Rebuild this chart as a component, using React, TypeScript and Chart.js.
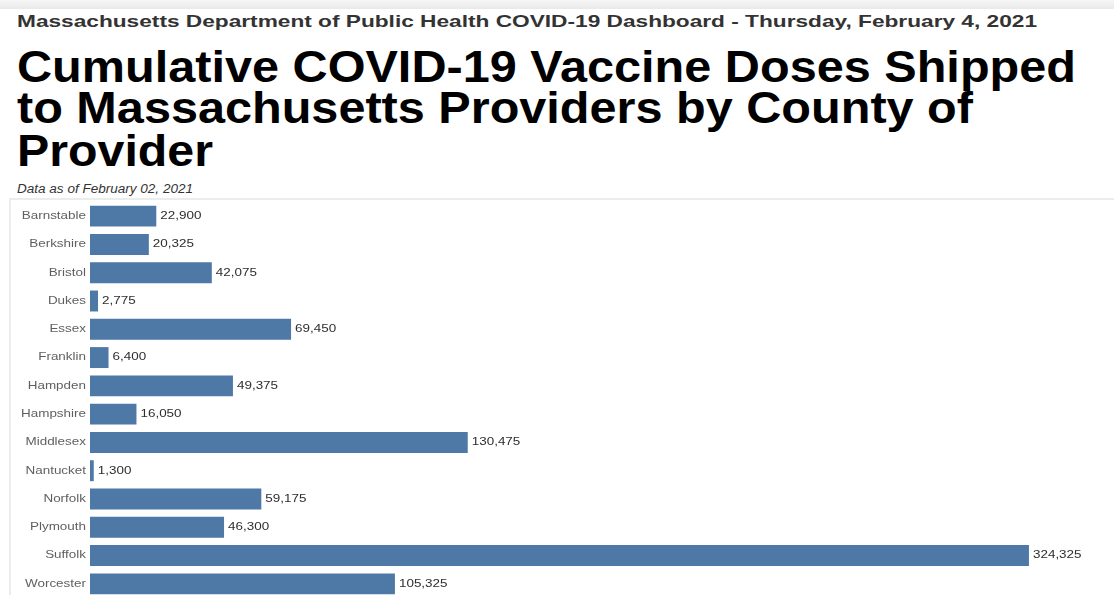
import React, { useEffect, useLayoutEffect, useRef } from "react";
import { Chart, registerables } from "chart.js";

Chart.register(...registerables);

const headerText =
  "Massachusetts Department of Public Health COVID-19 Dashboard - Thursday, February 4, 2021";
const titleLines = [
  "Cumulative COVID-19 Vaccine Doses Shipped",
  "to Massachusetts Providers by County of",
  "Provider",
];
const subtitleText = "Data as of February 02, 2021";

const counties = [
  "Barnstable",
  "Berkshire",
  "Bristol",
  "Dukes",
  "Essex",
  "Franklin",
  "Hampden",
  "Hampshire",
  "Middlesex",
  "Nantucket",
  "Norfolk",
  "Plymouth",
  "Suffolk",
  "Worcester",
];
const doses = [
  22900, 20325, 42075, 2775, 69450, 6400, 49375, 16050, 130475, 1300, 59175,
  46300, 324325, 105325,
];

const FONT = "'Liberation Sans', Arial, Helvetica, sans-serif";
const SX = 1.28;

type FitProps = {
  text: string;
  left: number;
  top: number;
  width: number;
  size: number;
  weight?: number | string;
  italic?: boolean;
  color: string;
};

function FitText({ text, left, top, width, size, weight, italic, color }: FitProps) {
  const ref = useRef<HTMLSpanElement>(null);
  useLayoutEffect(() => {
    const el = ref.current;
    if (!el) return;
    el.style.transform = "none";
    const w = el.getBoundingClientRect().width;
    if (w > 0) el.style.transform = `scaleX(${width / w})`;
  }, [text, width]);
  return (
    <span
      ref={ref}
      style={{
        position: "absolute",
        left,
        top,
        fontSize: size,
        lineHeight: `${size}px`,
        fontWeight: weight ?? "normal",
        fontStyle: italic ? "italic" : "normal",
        color,
        whiteSpace: "nowrap",
        transformOrigin: "0 0",
        fontFamily: FONT,
        display: "inline-block",
      }}
    >
      {text}
    </span>
  );
}

const labelPlugin = {
  id: "barLabels",
  afterDatasetsDraw(chart: any) {
    const ctx = chart.ctx as CanvasRenderingContext2D;
    const meta = chart.getDatasetMeta(0);
    const yScale = chart.scales.y;
    ctx.save();
    ctx.font = `10.5px ${FONT}`;
    ctx.textBaseline = "middle";
    counties.forEach((c, i) => {
      const y = yScale.getPixelForValue(i);
      ctx.save();
      ctx.fillStyle = "#5f5f5f";
      ctx.textAlign = "right";
      ctx.translate(86, y);
      ctx.scale(SX, 1);
      ctx.fillText(c, 0, 0);
      ctx.restore();
      const bar = meta.data[i];
      ctx.save();
      ctx.fillStyle = "#2e2e2e";
      ctx.textAlign = "left";
      ctx.translate(bar.x + 4, y);
      ctx.scale(SX, 1);
      ctx.fillText(doses[i].toLocaleString("en-US"), 0, 0);
      ctx.restore();
    });
    ctx.restore();
  },
};

function BarChart() {
  const canvasRef = useRef<HTMLCanvasElement>(null);
  useEffect(() => {
    const canvas = canvasRef.current;
    if (!canvas) return;
    const chart = new Chart(canvas, {
      type: "bar",
      data: {
        labels: counties,
        datasets: [
          {
            data: doses,
            backgroundColor: "#4e79a7",
            borderWidth: 0,
            barPercentage: 0.74,
            categoryPercentage: 1,
          },
        ],
      },
      options: {
        indexAxis: "y",
        responsive: false,
        animation: false,
        devicePixelRatio: 1,
        layout: { padding: { left: 90, right: 0, top: 0, bottom: 0 } },
        plugins: { legend: { display: false }, tooltip: { enabled: false } },
        scales: {
          x: { display: false, min: 0, max: 353700 },
          y: { display: false },
        },
      },
      plugins: [labelPlugin],
    });
    return () => chart.destroy();
  }, []);
  return (
    <canvas
      ref={canvasRef}
      width={1114}
      height={396}
      style={{ position: "absolute", left: 0, top: 202, width: 1114, height: 396 }}
    />
  );
}

export default function App() {
  return (
    <div
      style={{
        position: "fixed",
        left: 0,
        top: 0,
        width: 1114,
        height: 595,
        overflow: "hidden",
        background: "#ffffff",
      }}
    >
      <div
        style={{
          position: "absolute",
          left: 0,
          top: 0,
          width: 1114,
          height: 9,
          background: "linear-gradient(to bottom, #f6f6f6, #e9e9e9)",
        }}
      />
      <FitText text={headerText} left={17} top={13.3} width={1020} size={16.5} weight="bold" color="#333333" />
      <FitText text={titleLines[0]} left={16.5} top={44.5} width={1059} size={44} weight="bold" color="#000000" />
      <FitText text={titleLines[1]} left={16.5} top={86.1} width={956} size={44} weight="bold" color="#000000" />
      <FitText text={titleLines[2]} left={16.5} top={128.5} width={196} size={44} weight="bold" color="#000000" />
      <FitText text={subtitleText} left={17} top={182.7} width={176} size={12.5} italic color="#333333" />
      <div
        style={{
          position: "absolute",
          left: 10,
          top: 198,
          width: 1104,
          height: 2,
          background: "#ececec",
        }}
      />
      <div
        style={{
          position: "absolute",
          left: 9,
          top: 198,
          width: 2,
          height: 400,
          background: "#ececec",
        }}
      />
      <BarChart />
    </div>
  );
}
